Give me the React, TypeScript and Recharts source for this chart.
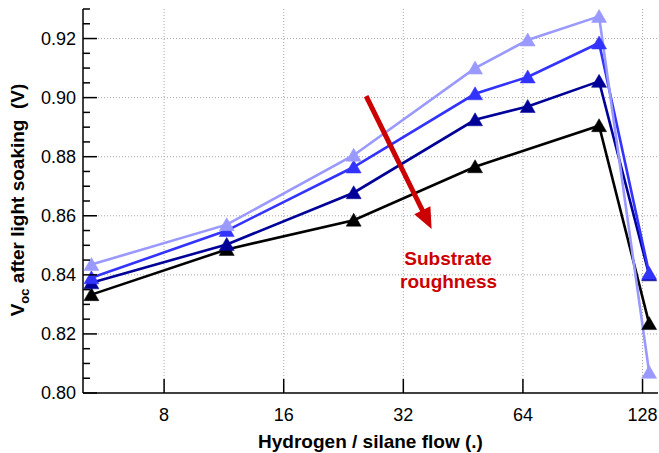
import { LineChart, Line, XAxis, YAxis, CartesianGrid, ReferenceLine } from "recharts";

// hydrogen / silane flow ratio for each deposition
const flow = [5.25, 11.5, 24, 48.5, 65.8, 99.5, 133];

// Voc after light soaking, one list per substrate roughness (smooth -> rough)
const vocLight = [0.8435, 0.857, 0.8805, 0.91, 0.9195, 0.9275, 0.807];
const vocMid = [0.839, 0.855, 0.8765, 0.9013, 0.907, 0.9185, 0.8405];
const vocNavy = [0.8373, 0.8503, 0.8678, 0.8925, 0.897, 0.9055, 0.84];
const vocBlack = [0.8333, 0.8486, 0.8585, 0.8766, null, 0.8905, 0.8235];

const xTicks = [8, 16, 32, 64, 128];
const yMajor = [0.8, 0.82, 0.84, 0.86, 0.88, 0.9, 0.92];
const yTicks = [
  0.8, 0.805, 0.81, 0.815, 0.82, 0.825, 0.83, 0.835, 0.84, 0.845, 0.85, 0.855, 0.86, 0.865,
  0.87, 0.875, 0.88, 0.885, 0.89, 0.895, 0.9, 0.905, 0.91, 0.915, 0.92, 0.925, 0.93,
];

const arrowFrom = { x: 25.8, y: 0.9005 };
const arrowTo = { x: 37.7, y: 0.8555 };

const data = flow.map((f, i) => ({
  flow: f,
  light: vocLight[i],
  mid: vocMid[i],
  navy: vocNavy[i],
  black: vocBlack[i],
}));

const FONT = '"Liberation Sans", Arial, Helvetica, sans-serif';
const RED = "#cc0000";
const GAP = 7;
const GAP_X = 15;
const MAJOR = 14;
const MINOR = 7;

const isMajor = (v: number) => yMajor.some((m) => Math.abs(m - v) < 1e-6);

function LeftTick(props: any) {
  const { x, y, payload } = props;
  const ax = x + GAP;
  const major = isMajor(payload.value);
  return (
    <g>
      <line x1={ax} x2={ax + (major ? MAJOR : MINOR)} y1={y} y2={y} stroke="#000" strokeWidth={1.5} />
      {major && (
        <text x={x} y={y} dy="0.36em" textAnchor="end" fontFamily={FONT} fontSize={18} fill="#000">
          {payload.value.toFixed(2)}
        </text>
      )}
    </g>
  );
}

function RightTick(props: any) {
  const { x, y, payload } = props;
  const ax = x - GAP;
  const major = isMajor(payload.value);
  return <line x1={ax} x2={ax - (major ? MAJOR : MINOR)} y1={y} y2={y} stroke="#000" strokeWidth={1.5} />;
}

function BottomTick(props: any) {
  const { x, y, payload } = props;
  const ay = y - GAP_X;
  return (
    <g>
      <line x1={x} x2={x} y1={ay} y2={ay - MAJOR} stroke="#000" strokeWidth={1.5} />
      <text x={x} y={y} dy="0.72em" textAnchor="middle" fontFamily={FONT} fontSize={18} fill="#000">
        {payload.value}
      </text>
    </g>
  );
}

function TopTick(props: any) {
  const { x, y } = props;
  const ay = y + GAP;
  return <line x1={x} x2={x} y1={ay} y2={ay + MAJOR} stroke="#000" strokeWidth={1.5} />;
}

function YTitle(props: any) {
  const vb = props.viewBox ?? { x: 0, y: 9, width: 83, height: 384 };
  const cx = vb.x + 24;
  const cy = vb.y + vb.height / 2 - 1;
  return (
    <text
      x={cx}
      y={cy}
      transform={`rotate(-90, ${cx}, ${cy})`}
      textAnchor="middle"
      fontFamily={FONT}
      fontSize={19}
      fontWeight="bold"
      fill="#000"
      style={{ whiteSpace: "pre" }}
    >
      V
      <tspan fontSize={13} dy={5}>oc</tspan>
      <tspan dy={-5}>{" after light soaking  (V)"}</tspan>
    </text>
  );
}

function XTitle(props: any) {
  const vb = props.viewBox ?? { x: 83, y: 393, width: 575, height: 60 };
  return (
    <text
      x={vb.x + vb.width / 2}
      y={vb.y + 55}
      textAnchor="middle"
      fontFamily={FONT}
      fontSize={19}
      fontWeight="bold"
      fill="#000"
    >
      Hydrogen / silane flow (.)
    </text>
  );
}

function ArrowShape(props: any) {
  const { x1, y1, x2, y2 } = props;
  if (x1 == null || x2 == null) return <g />;
  const dx = x2 - x1;
  const dy = y2 - y1;
  const len = Math.hypot(dx, dy);
  const ux = dx / len;
  const uy = dy / len;
  const head = 21;
  const half = 9;
  const bx = x2 - ux * head;
  const by = y2 - uy * head;
  const pts = `${x2},${y2} ${bx - uy * half},${by + ux * half} ${bx + uy * half},${by - ux * half}`;
  return (
    <g>
      <line x1={x1} y1={y1} x2={bx + ux * 2} y2={by + uy * 2} stroke={RED} strokeWidth={5} />
      <polygon points={pts} fill={RED} />
      <text x={x2 + 16.5} y={y2 + 36} textAnchor="middle" fontFamily={FONT} fontSize={19} fontWeight="bold" fill={RED}>
        Substrate
      </text>
      <text x={x2 + 17} y={y2 + 58.5} textAnchor="middle" fontFamily={FONT} fontSize={19} fontWeight="bold" fill={RED}>
        roughness
      </text>
    </g>
  );
}

function triangleDot(color: string) {
  return (p: any) => {
    const { cx, cy, index } = p;
    if (cx == null || cy == null || p.value == null) return <g key={`t-${index}`} />;
    const pts = `${cx},${cy - 7} ${cx - 7.5},${cy + 6} ${cx + 7.5},${cy + 6}`;
    return <polygon key={`t-${index}`} points={pts} fill={color} stroke={color} strokeWidth={0.5} />;
  };
}

const series = [
  { key: "black", color: "#000000" },
  { key: "navy", color: "#000099" },
  { key: "mid", color: "#3333ff" },
  { key: "light", color: "#9999ff" },
];

export default function App() {
  return (
    <div style={{ position: "absolute", left: 0, top: 0, background: "#fff" }}>
      <LineChart width={659} height={453} data={data} margin={{ top: 9, right: 1, left: 0, bottom: 0 }}>
        <CartesianGrid
          stroke="#a8a8a8"
          strokeDasharray="1 2"
          verticalValues={xTicks}
          horizontalValues={yMajor.slice(1)}
        />
        <XAxis
          dataKey="flow"
          type="number"
          scale="log"
          domain={[5, 140]}
          allowDataOverflow
          ticks={xTicks}
          interval={0}
          height={60}
          tickSize={0}
          tickMargin={GAP_X}
          tickLine={false}
          tick={<BottomTick />}
          axisLine={{ stroke: "#000", strokeWidth: 1.5 }}
          label={<XTitle />}
        />
        <XAxis
          xAxisId="top"
          orientation="top"
          dataKey="flow"
          type="number"
          scale="log"
          domain={[5, 140]}
          allowDataOverflow
          ticks={xTicks}
          interval={0}
          height={0}
          tickSize={0}
          tickMargin={GAP}
          tickLine={false}
          tick={<TopTick />}
          axisLine={{ stroke: "#000", strokeWidth: 1.5 }}
        />
        <YAxis
          type="number"
          domain={[0.8, 0.93]}
          allowDataOverflow
          ticks={yTicks}
          interval={0}
          width={83}
          tickSize={0}
          tickMargin={GAP}
          tickLine={false}
          tick={<LeftTick />}
          axisLine={{ stroke: "#000", strokeWidth: 1.5 }}
          label={<YTitle />}
        />
        <YAxis
          yAxisId="right"
          orientation="right"
          type="number"
          domain={[0.8, 0.93]}
          allowDataOverflow
          ticks={yTicks}
          interval={0}
          width={0}
          tickSize={0}
          tickMargin={GAP}
          tickLine={false}
          tick={<RightTick />}
          axisLine={{ stroke: "#000", strokeWidth: 1.5 }}
        />
        {series.map((s) => (
          <Line
            key={s.key}
            dataKey={s.key}
            stroke={s.color}
            strokeWidth={2.6}
            type="linear"
            connectNulls
            dot={triangleDot(s.color)}
            activeDot={false}
            isAnimationActive={false}
          />
        ))}
        <ReferenceLine segment={[arrowFrom, arrowTo]} shape={ArrowShape} ifOverflow="visible" />
      </LineChart>
    </div>
  );
}
